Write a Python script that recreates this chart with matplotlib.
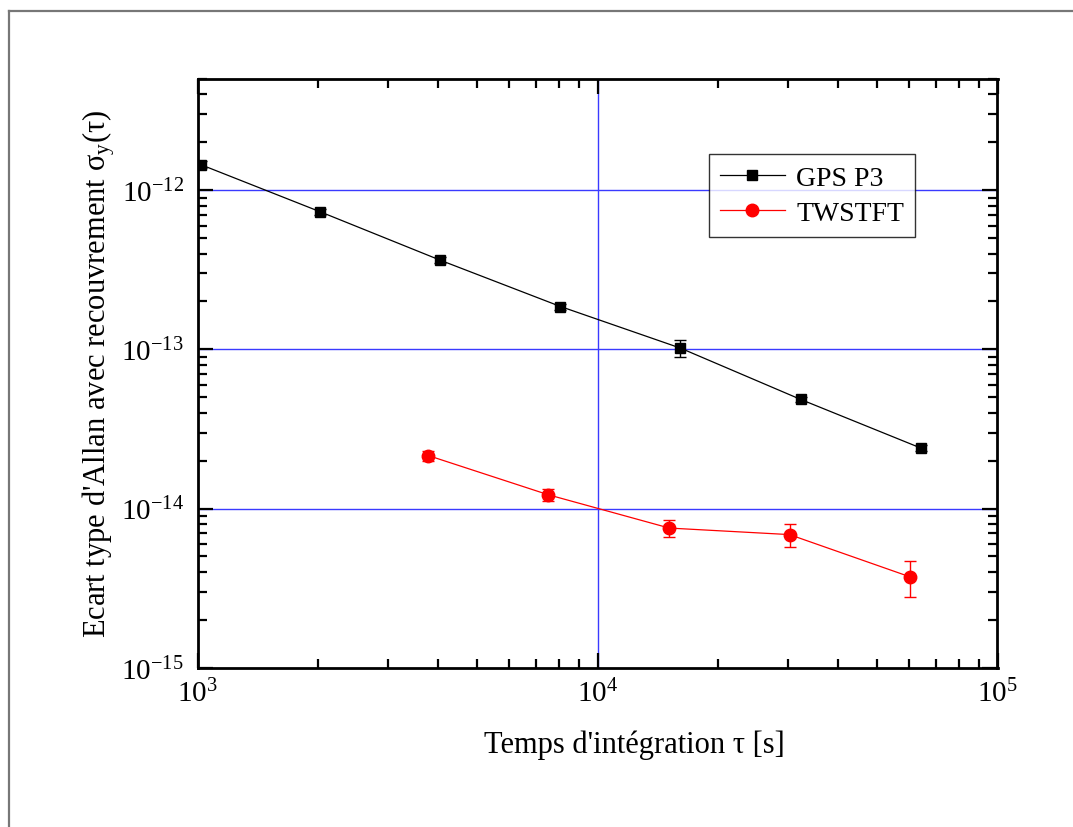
import matplotlib
matplotlib.use('Agg')
import matplotlib.pyplot as plt
from matplotlib.ticker import LogLocator, NullFormatter, LogFormatterMathtext, FixedLocator
from matplotlib.lines import Line2D

plt.rcParams['font.family'] = ['Liberation Serif', 'DejaVu Serif']
plt.rcParams['mathtext.fontset'] = 'custom'
plt.rcParams['mathtext.rm'] = 'Liberation Serif'
plt.rcParams['mathtext.it'] = 'Liberation Serif:italic'
plt.rcParams['axes.unicode_minus'] = False

# ---- data ----
gps_tau = [1018, 2030, 4050, 8080, 16100, 32200, 64300]
gps_adev = [1.45e-12, 7.31e-13, 3.63e-13, 1.86e-13, 1.02e-13, 4.85e-14, 2.40e-14]
gps_err = [0.07e-12, 0.30e-13, 0.15e-13, 0.08e-13, 0.12e-13, 0.20e-14, 0.10e-14]

tw_tau = [3780, 7540, 15120, 30200, 60300]
tw_adev = [2.15e-14, 1.22e-14, 7.54e-15, 6.86e-15, 3.73e-15]
tw_err = [0.15e-14, 0.10e-14, 0.93e-15, 1.1e-15, 0.96e-15]

xlim = (1e3, 1e5)
ylim = (1e-15, 5e-12)
x_major = [1e3, 1e4, 1e5]
y_major = [1e-15, 1e-14, 1e-13, 1e-12]
grid_y = [1e-12, 1e-13, 1e-14]
grid_x = [1e4]

fig = plt.figure(figsize=(10.73, 8.28), dpi=100)
# gray page frame
fig.add_artist(Line2D([9/1073, 9/1073], [0, 1 - 12/828], color='#777777', lw=1.6,
                      transform=fig.transFigure))
fig.add_artist(Line2D([9/1073, 1], [1 - 12/828, 1 - 12/828], color='#777777', lw=1.6,
                      transform=fig.transFigure))

ax = fig.add_axes([197.5/1073, (828-668.7)/828, 800/1073, 588.7/828])
ax.set_xscale('log')
ax.set_yscale('log')
ax.set_xlim(*xlim)
ax.set_ylim(*ylim)

for y in grid_y:
    ax.axhline(y, color='#3a3aff', lw=1.0, zorder=1)
for x in grid_x:
    ax.axvline(x, color='#3a3aff', lw=1.0, zorder=1)

ax.errorbar(gps_tau, gps_adev, yerr=gps_err, fmt='none', ecolor='black',
            elinewidth=1.0, capsize=4.5, capthick=1.0, zorder=3)
ax.plot(gps_tau, gps_adev, color='black', lw=0.9, marker='s', markersize=7.5,
        label='GPS P3', zorder=4)
ax.errorbar(tw_tau, tw_adev, yerr=tw_err, fmt='none', ecolor='red',
            elinewidth=1.0, capsize=4.5, capthick=1.0, zorder=3)
ax.plot(tw_tau, tw_adev, color='red', lw=0.9, marker='o', markersize=9,
        label='TWSTFT', zorder=4)

for s in ax.spines.values():
    s.set_linewidth(2.0)

ax.xaxis.set_major_locator(FixedLocator(x_major))
ax.xaxis.set_minor_locator(LogLocator(base=10, subs=range(2, 10), numticks=20))
ax.yaxis.set_major_locator(FixedLocator(y_major))
ax.yaxis.set_minor_locator(LogLocator(base=10, subs=range(2, 10), numticks=20))
ax.xaxis.set_minor_formatter(NullFormatter())
ax.yaxis.set_minor_formatter(NullFormatter())
ax.xaxis.set_major_formatter(LogFormatterMathtext())
ax.yaxis.set_major_formatter(LogFormatterMathtext())

ax.tick_params(which='both', direction='in', top=True, right=True, width=1.6)
ax.tick_params(which='major', length=11, labelsize=21)
ax.tick_params(which='minor', length=6.5)
ax.tick_params(axis='x', which='major', pad=8)
ax.tick_params(axis='y', which='major', pad=10)

ax.set_xlabel("Temps d'intégration τ [s]", fontsize=22)
ax.xaxis.set_label_coords(0.546, -0.105)
ax.set_ylabel("Ecart type d'Allan avec recouvrement σ$_{\\mathregular{y}}$(τ)", fontsize=22)
ax.yaxis.set_label_coords(-0.10, 0.50)

leg = ax.legend(loc='upper left', bbox_to_anchor=(0.639, 0.8726), borderaxespad=0,
                fontsize=20, frameon=True, fancybox=False, edgecolor='black',
                handlelength=2.35, handletextpad=0.4, borderpad=0.4,
                labelspacing=0.35)
leg.get_frame().set_linewidth(1.0)

fig.savefig('out.png', dpi=100)
